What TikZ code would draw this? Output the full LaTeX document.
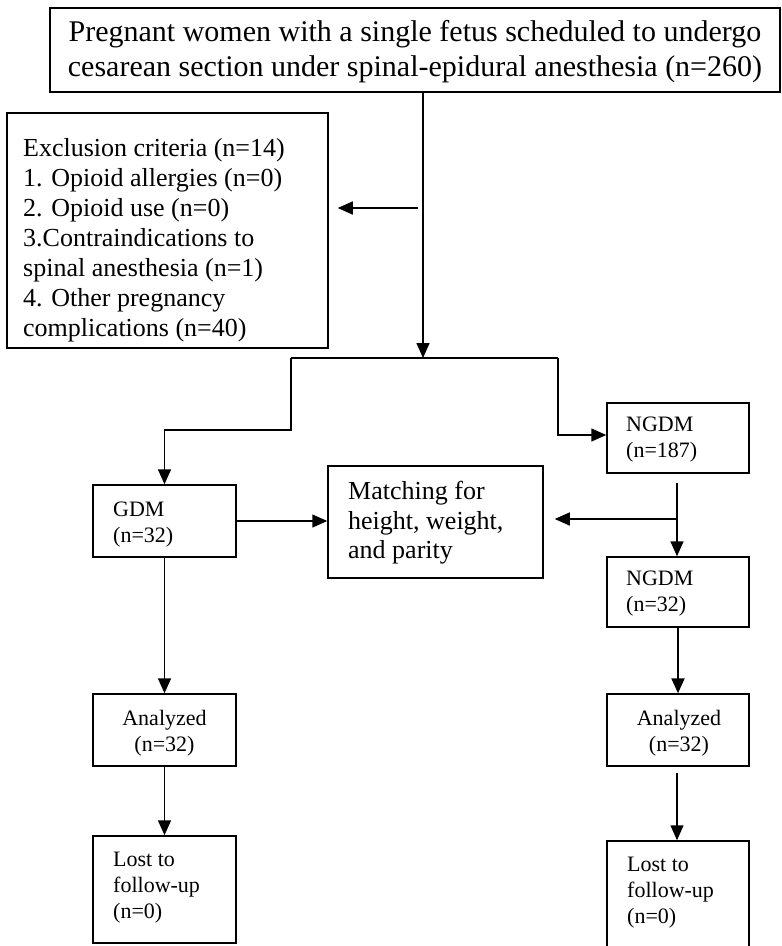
\documentclass[tikz,border=0pt]{standalone}
\usepackage{fontspec}
\setmainfont{Liberation Serif}
\usetikzlibrary{arrows.meta}
\begin{document}
\begin{tikzpicture}[x=1pt,y=-1pt,
  box/.style={draw, line width=1.5pt, inner sep=0pt},
  arr/.style={line width=1.5pt, -{Triangle[length=15pt,width=13pt]}},
  ln/.style={line width=1.5pt},
  txt/.style={inner sep=0pt, align=left, anchor=west},
  big/.style={font=\fontsize{26}{30}\selectfont},
  small/.style={font=\fontsize{22}{26}\selectfont}]
\useasboundingbox (0,0) rectangle (782,946);

% boxes
\node[box, minimum width=730pt, minimum height=84pt] (top) at (415,50) {};
\node[box, minimum width=321pt, minimum height=235pt] (exc) at (167.5,230.5) {};
\node[box, minimum width=143pt, minimum height=72pt] (gdm) at (164.5,521) {};
\node[box, minimum width=215pt, minimum height=112pt] (match) at (435.5,522) {};
\node[box, minimum width=142pt, minimum height=70pt] (ngdma) at (678,438) {};
\node[box, minimum width=142pt, minimum height=70pt] (ngdmb) at (678,592) {};
\node[box, minimum width=143pt, minimum height=72pt] (anl) at (164.5,730) {};
\node[box, minimum width=142pt, minimum height=72pt] (anr) at (678,730) {};
\node[box, minimum width=143pt, minimum height=107pt] (lostl) at (164.5,889.5) {};
\node[box, minimum width=142pt, minimum height=108pt] (lostr) at (678,895) {};

% texts
\node[inner sep=0pt, align=center, font=\fontsize{30}{35}\selectfont] (topt) at (415,52)
  {Pregnant women with a single fetus scheduled to undergo\\cesarean section under spinal-epidural anesthesia (n=260)};
\node[txt, big] (exct) at (23,240)
  {Exclusion criteria (n=14)\\1. Opioid allergies (n=0)\\2. Opioid use (n=0)\\3.Contraindications to\\spinal anesthesia (n=1)\\4. Other pregnancy\\complications (n=40)};
\node[txt, small] (gdmt) at (113,525) {GDM\\(n=32)};
\node[txt, font=\fontsize{26}{29.5}\selectfont] (matcht) at (348,523) {Matching for\\height, weight,\\and parity};
\node[txt, small] (ngdmat) at (626,440) {NGDM\\(n=187)};
\node[txt, small] (ngdmbt) at (626,594) {NGDM\\(n=32)};
\node[inner sep=0pt, align=center, small] (anlt) at (164.5,733) {Analyzed\\(n=32)};
\node[inner sep=0pt, align=center, small] (anrt) at (679,733) {Analyzed\\(n=32)};
\node[txt, small] (lostlt) at (113,888) {Lost to\\follow-up\\(n=0)};
\node[txt, small] (lostrt) at (627,893) {Lost to\\follow-up\\(n=0)};

% coordinates
\coordinate (split) at (423,358);
\coordinate (excfrom) at (423,208);
\coordinate (sl) at (291,358);
\coordinate (slb) at (291,430);
\coordinate (sr) at (558,358);
\coordinate (srb) at (558,435);
\coordinate (nb) at (677,519);

% connectors
\draw[arr] (top.south -| split) -- (split);
\draw[arr, shorten <=5pt, shorten >=9pt] (excfrom) -- (excfrom -| exc.east);
\draw[ln] (sl) -- (sr);
\draw[arr] (sl) -- (slb) -- (slb -| gdm.north) -- (gdm.north);
\draw[arr] (sr) -- (srb) -- (srb -| ngdma.west);
\draw[arr] (gdm.east) -- (gdm.east -| match.west);
\draw[arr, shorten <=9pt] (ngdma.south -| nb) -- (ngdmb.north -| nb);
\draw[arr, shorten >=11pt] (nb) -- (nb -| match.east);
\draw[arr] (gdm.south) -- (anl.north);
\draw[arr] (anl.south) -- (lostl.north);
\draw[arr, line width=2.2pt] (ngdmb.south) -- (anr.north);
\draw[arr, shorten <=6pt] (anr.south -| nb) -- (lostr.north -| nb);
\end{tikzpicture}
\end{document}
